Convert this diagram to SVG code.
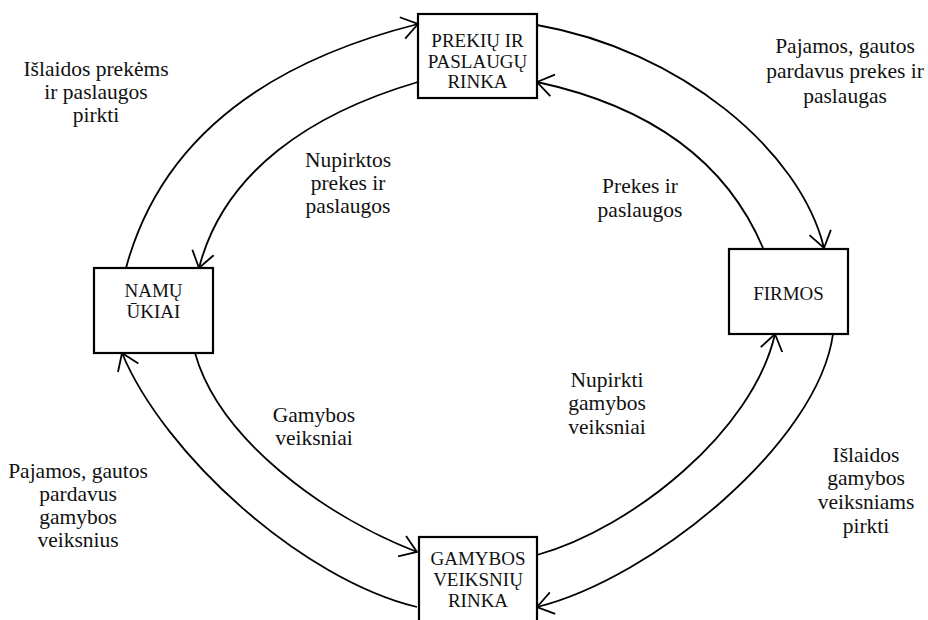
<svg xmlns="http://www.w3.org/2000/svg" width="928" height="620" viewBox="0 0 928 620">
<style>
.box{fill:#fff;stroke:#000;stroke-width:2.2}
.bt{font-size:19px;fill:#111;text-anchor:middle}
.lb{font-size:21.5px;fill:#111;text-anchor:middle}
.c{fill:none;stroke:#000;stroke-width:1.8}
</style>
<defs>
<marker id="ah" markerUnits="userSpaceOnUse" markerWidth="40" markerHeight="40" viewBox="-20 -20 40 40" refX="0" refY="0" orient="auto">
<path d="M-16,-11 L0,0 L-16,11" fill="none" stroke="#000" stroke-width="1.8"/>
</marker>
</defs>
<rect width="928" height="620" fill="#fff"/>
<g id="connectors">
<path class="c" d="M126,268 C160,142 263,63 418,24" marker-end="url(#ah)"/>
<path class="c" d="M418,82 C312,113 224,171 199,268" marker-end="url(#ah)"/>
<path class="c" d="M537,25 C680,50 800,150 824,248" marker-end="url(#ah)"/>
<path class="c" d="M763,248 C724,156 644,105 537,82" marker-end="url(#ah)"/>
<path class="c" d="M417,607 C301,579 164,454 122,353" marker-end="url(#ah)"/>
<path class="c" d="M195,353 C219,439 324,516 417,552" marker-end="url(#ah)"/>
<path class="c" d="M537,555 C633,528 753,431 775,334" marker-end="url(#ah)"/>
<path class="c" d="M833,334 C818,443 653,578 537,607" marker-end="url(#ah)"/>
</g>
<g font-family="'Liberation Serif', 'DejaVu Serif', 'Times New Roman', serif">
<g id="rinka-prekiu">
<rect class="box" x="418" y="14" width="119" height="84"/>
<text class="bt" x="477.5" y="47">PREKIŲ IR</text>
<text class="bt" x="477.5" y="68">PASLAUGŲ</text>
<text class="bt" x="477.5" y="88">RINKA</text>
</g>
<g id="namu-ukiai">
<rect class="box" x="94" y="268" width="119" height="85"/>
<text class="bt" x="153.5" y="297">NAMŲ</text>
<text class="bt" x="153.5" y="318">ŪKIAI</text>
</g>
<g id="firmos">
<rect class="box" x="729" y="249" width="119" height="85"/>
<text class="bt" x="788.5" y="300">FIRMOS</text>
</g>
<g id="rinka-gamybos">
<rect class="box" x="419" y="537" width="118" height="90"/>
<text class="bt" x="478" y="565">GAMYBOS</text>
<text class="bt" x="478" y="586">VEIKSNIŲ</text>
<text class="bt" x="478" y="607">RINKA</text>
</g>
<g id="labels">
<text class="lb" x="96" y="76">Išlaidos prekėms</text>
<text class="lb" x="96" y="99">ir paslaugos</text>
<text class="lb" x="96" y="122">pirkti</text>
<text class="lb" x="845" y="53">Pajamos, gautos</text>
<text class="lb" x="845" y="78">pardavus prekes ir</text>
<text class="lb" x="845" y="103">paslaugas</text>
<text class="lb" x="348" y="167">Nupirktos</text>
<text class="lb" x="348" y="190">prekes ir</text>
<text class="lb" x="348" y="213">paslaugos</text>
<text class="lb" x="640" y="193">Prekes ir</text>
<text class="lb" x="640" y="217">paslaugos</text>
<text class="lb" x="314" y="422">Gamybos</text>
<text class="lb" x="314" y="445">veiksniai</text>
<text class="lb" x="607" y="387">Nupirkti</text>
<text class="lb" x="607" y="410">gamybos</text>
<text class="lb" x="607" y="434">veiksniai</text>
<text class="lb" x="78" y="478">Pajamos, gautos</text>
<text class="lb" x="78" y="501">pardavus</text>
<text class="lb" x="78" y="524">gamybos</text>
<text class="lb" x="78" y="547">veiksnius</text>
<text class="lb" x="866" y="462">Išlaidos</text>
<text class="lb" x="866" y="485">gamybos</text>
<text class="lb" x="866" y="509">veiksniams</text>
<text class="lb" x="866" y="533">pirkti</text>
</g>
</g>
</svg>
